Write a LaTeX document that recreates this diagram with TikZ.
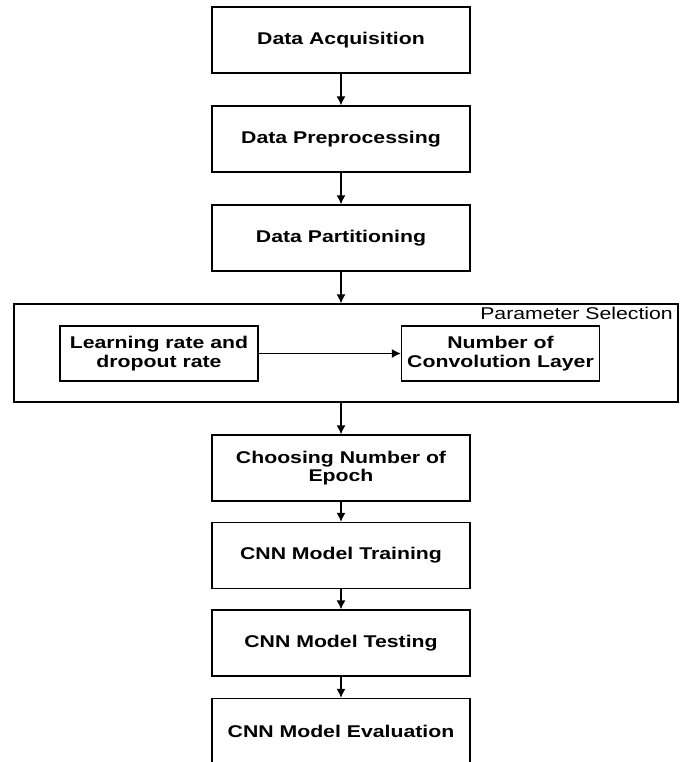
\documentclass[tikz,border=0pt]{standalone}
\usepackage{fontspec}
\setmainfont{Liberation Sans}[FakeStretch=1.25]
\usepackage{tikz}
\usetikzlibrary{shapes,arrows,arrows.meta}
\tikzstyle{block} = [rectangle, draw, line width=1.3pt, text centered, align=center, font=\bfseries\fontsize{17}{18.5}\selectfont, minimum width=258pt, minimum height=66pt, inner sep=0pt]
\tikzstyle{inner} = [rectangle, draw, line width=1.3pt, text centered, align=center, font=\bfseries\fontsize{17}{18.5}\selectfont, minimum width=198pt, minimum height=55pt, inner sep=0pt]
\tikzstyle{group} = [rectangle, draw, line width=1.3pt, minimum width=664pt, minimum height=98pt, inner sep=0pt]
\tikzstyle{line} = [draw, line width=1.3pt, -{Latex[length=9pt, width=9pt]}]

\begin{document}
\begin{tikzpicture}[x=1pt, y=1pt, node distance=99pt]
			\clip (0,0) rectangle (686,-762);
			\node [block] (acq) at (341,-40) {Data Acquisition};
			\node [block, below of=acq] (prep) {Data Preprocessing};
			\node [block, below of=prep] (part) {Data Partitioning};
			\node [group] (param) at (346,-353) {};
			\node [anchor=north east, inner sep=0pt, font=\fontsize{17}{18.5}\selectfont] (plabel) at (673,-307) {Parameter Selection};
			\node [inner] (rate) at (159,-353.5) {Learning rate and\\dropout rate};
			\node [inner, right of=rate, node distance=341.5pt] (conv) {Number of\\Convolution Layer};
			\node [block, below of=part, node distance=230pt] (epoch) {Choosing Number of\\Epoch};
			\node [block, below of=epoch, node distance=87.5pt] (train) {CNN Model Training};
			\node [block, below of=train, node distance=87.5pt] (test) {CNN Model Testing};
			\node [block, below of=test, node distance=88.5pt] (eval) {CNN Model Evaluation};
			\path [line] (acq) -- (prep);
			\path [line] (prep) -- (part);
			\path [line] (part.south) -- (part.south |- param.north);
			\path [line] (rate) -- (conv);
			\path [line] (param.south -| epoch.north) -- (epoch.north);
			\path [line] (epoch) -- (train);
			\path [line] (train) -- (test);
			\path [line] (test) -- (eval);
		\end{tikzpicture}
\end{document}
